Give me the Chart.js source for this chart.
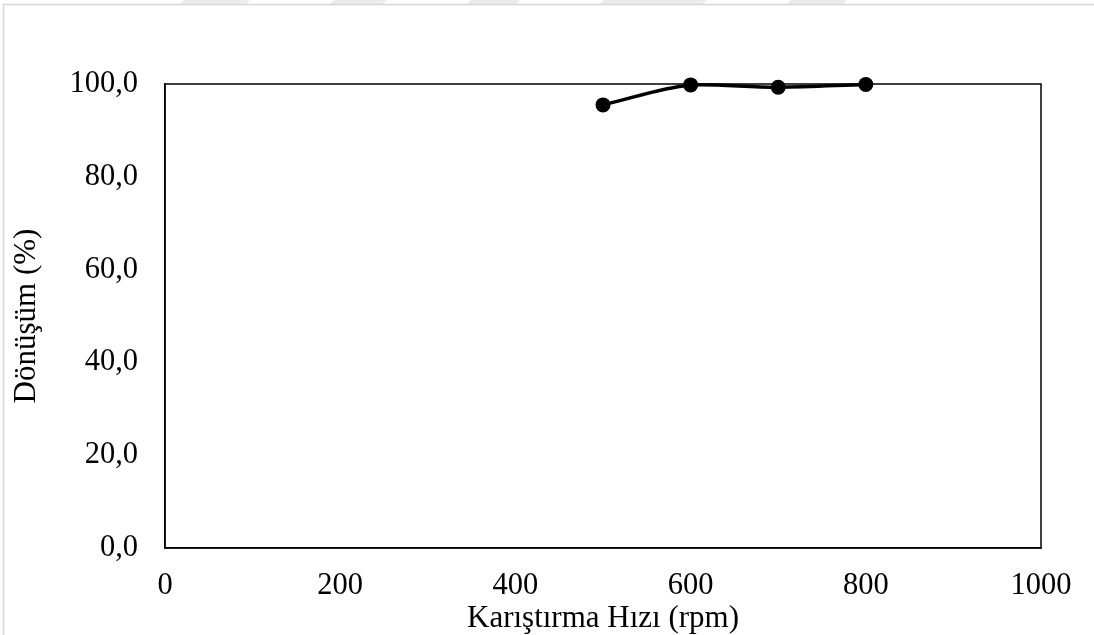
<!DOCTYPE html>
<html>
<head>
<meta charset="utf-8">
<script src="https://cdn.jsdelivr.net/npm/chart.js@4/dist/chart.umd.min.js"></script>
<style>
  html, body { margin: 0; padding: 0; background: #ffffff; }
  #wrap { width: 1094px; height: 635px; position: relative; }
</style>
</head>
<body>
<div id="wrap"><canvas id="c"></canvas></div>
<script>
// Stirring speed (rpm) and conversion (%)
const speeds = [500, 600, 700, 800];
const conversion = [95.5, 99.8, 99.3, 99.9];
const xTicks = [0, 200, 400, 600, 800, 1000];
const yTicks = [0, 20, 40, 60, 80, 100];
const xTitle = 'Karıştırma Hızı (rpm)';
const yTitle = 'Dönüşüm (%)';

const serif = "'Liberation Serif', 'Times New Roman', serif";

// Page frame and faint header bands behind the chart
const framePlugin = {
  id: 'frame',
  beforeDraw(chart) {
    const ctx = chart.ctx;
    ctx.save();
    ctx.fillStyle = '#ffffff';
    ctx.fillRect(0, 0, chart.width, chart.height);
    ctx.fillStyle = '#ececec';
    const bands = [[180, 250], [330, 387], [467, 520], [600, 707], [787, 847]];
    bands.forEach(([a, b]) => {
      ctx.beginPath();
      ctx.moveTo(a + 4, 0);
      ctx.lineTo(b, 0);
      ctx.lineTo(b - 4, 4);
      ctx.lineTo(a, 4);
      ctx.closePath();
      ctx.fill();
    });
    ctx.strokeStyle = '#d6d6d6';
    ctx.lineWidth = 1.5;
    ctx.beginPath();
    ctx.moveTo(3.5, chart.height);
    ctx.lineTo(3.5, 4.5);
    ctx.lineTo(chart.width, 4.5);
    ctx.stroke();
    ctx.restore();
  },
  beforeDatasetsDraw(chart) {
    const { ctx, chartArea: a } = chart;
    ctx.save();
    ctx.strokeStyle = '#000000';
    ctx.lineWidth = 1.5;
    ctx.strokeRect(a.left, a.top, a.right - a.left, a.bottom - a.top);
    ctx.restore();
  }
};

new Chart(document.getElementById('c'), {
  type: 'line',
  data: {
    datasets: [{
      data: speeds.map((s, i) => ({ x: s, y: conversion[i] })),
      borderColor: '#000000',
      backgroundColor: '#000000',
      borderWidth: 3.5,
      pointRadius: 7.5,
      pointHoverRadius: 7.5,
      pointBorderWidth: 0,
      tension: 0.35,
      clip: false
    }]
  },
  options: {
    responsive: true,
    maintainAspectRatio: false,
    animation: false,
    events: [],
    layout: { padding: { top: 84, right: 53, left: 0, bottom: 0 } },
    plugins: { legend: { display: false }, tooltip: { enabled: false } },
    scales: {
      x: {
        type: 'linear',
        min: 0, max: 1000,
        afterFit(scale) { scale.height = 87; },
        afterBuildTicks(scale) { scale.ticks = xTicks.map(v => ({ value: v })); },
        grid: { display: false, drawTicks: false },
        border: { display: true, color: '#000000', width: 1.5 },
        ticks: {
          padding: 20,
          color: '#000000',
          font: { family: serif, size: 30.5, lineHeight: 1.2 },
          maxRotation: 0,
          callback: v => String(v)
        },
        title: {
          display: true, text: xTitle, color: '#000000',
          font: { family: serif, size: 31, lineHeight: 1 },
          padding: { top: 0, bottom: 0.5 }
        }
      },
      y: {
        type: 'linear',
        min: 0, max: 100,
        afterFit(scale) { scale.width = 165; },
        afterBuildTicks(scale) { scale.ticks = yTicks.map(v => ({ value: v })); },
        grid: { display: false, drawTicks: false },
        border: { display: true, color: '#000000', width: 1.5 },
        ticks: {
          padding: 27,
          color: '#000000',
          font: { family: serif, size: 30.5 },
          callback: v => v.toFixed(1).replace('.', ',')
        },
        title: {
          display: true, text: yTitle, color: '#000000',
          font: { family: serif, size: 31, lineHeight: 1 },
          padding: { top: 11.5, bottom: 0 }
        }
      }
    }
  },
  plugins: [framePlugin]
});
</script>
</body>
</html>
